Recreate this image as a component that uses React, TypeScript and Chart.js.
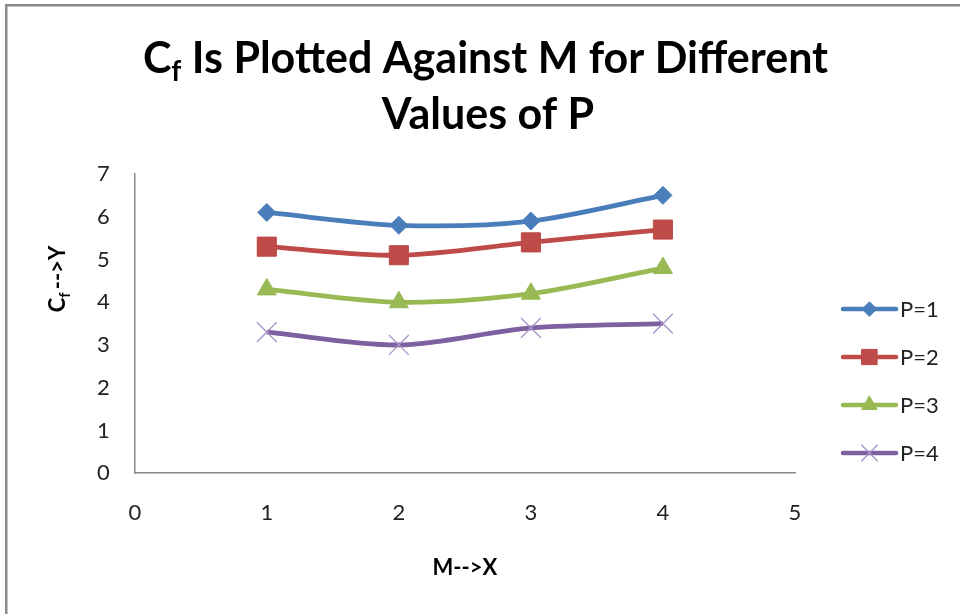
import { useEffect, useRef } from "react";
import { Chart, registerables } from "chart.js";
import { drawPoint } from "chart.js/helpers";

Chart.register(...registerables);

// ---- data ----
const mValues = [1, 2, 3, 4];
const seriesLabels = ["P=1", "P=2", "P=3", "P=4"];
const p1Values = [6.1, 5.8, 5.9, 6.5];
const p2Values = [5.3, 5.1, 5.4, 5.7];
const p3Values = [4.3, 4.0, 4.2, 4.8];
const p4Values = [3.3, 3.0, 3.4, 3.5];
const xTickValues = [0, 1, 2, 3, 4, 5];
const yTickValues = [0, 1, 2, 3, 4, 5, 6, 7];
const titleMain = "C";
const titleSub = "f";
const titleRest = " Is Plotted Against M for Different";
const titleLine2 = "Values of P";
const xAxisTitle = "M-->X";
const yAxisMain = "C";
const yAxisSub = "f";
const yAxisRest = "-->Y";

const FONT = "Lato, 'Liberation Sans', sans-serif";

const styles = [
  { color: "#4A7EBB", point: "rectRot", radius: 9, pColor: "#4A7EBB", pBorder: 1 },
  { color: "#BE4B48", point: "rect", radius: 13.5, pColor: "#BE4B48", pBorder: 1 },
  { color: "#98B954", point: "triangle", radius: 11, pColor: "#98B954", pBorder: 1 },
  { color: "#7D60A0", point: "crossRot", radius: 14, pColor: "#A793C8", pBorder: 1.3 },
];

const seriesValues = [p1Values, p2Values, p3Values, p4Values];

const decorPlugin = {
  id: "decor",
  beforeDraw(chart: any) {
    const ctx = chart.ctx;
    ctx.save();
    ctx.fillStyle = "#8c8c8c";
    ctx.fillRect(5, 4, 960, 2.5);
    ctx.fillRect(5, 4, 2.5, 620);
    ctx.restore();
  },
  afterDraw(chart: any) {
    const ctx = chart.ctx;
    ctx.save();
    ctx.fillStyle = "#000";
    // title line 1
    const big = `bold 43px ${FONT}`;
    const small = `bold 28px ${FONT}`;
    ctx.font = big;
    const wC = ctx.measureText(titleMain).width;
    const wRest = ctx.measureText(titleRest).width;
    ctx.font = small;
    const wF = ctx.measureText(titleSub).width;
    const total = wC + wF + wRest;
    let x = 485.5 - total / 2;
    ctx.textBaseline = "alphabetic";
    ctx.textAlign = "left";
    ctx.font = big;
    ctx.fillText(titleMain, x, 73);
    x += wC;
    ctx.font = small;
    ctx.fillText(titleSub, x, 81);
    x += wF;
    ctx.font = big;
    ctx.fillText(titleRest, x, 73);
    ctx.textAlign = "center";
    ctx.fillText(titleLine2, 488, 129);

    // y axis title (rotated)
    ctx.save();
    ctx.translate(65, 279);
    ctx.rotate(-Math.PI / 2);
    const yb = `bold 22px ${FONT}`;
    const ys = `bold 15px ${FONT}`;
    ctx.font = yb;
    const a = ctx.measureText(yAxisMain).width;
    const c = ctx.measureText(yAxisRest).width;
    ctx.font = ys;
    const b = ctx.measureText(yAxisSub).width;
    let tx = -(a + b + c + 3) / 2;
    ctx.textAlign = "left";
    ctx.font = yb;
    ctx.fillText(yAxisMain, tx, 0);
    tx += a;
    ctx.font = ys;
    ctx.fillText(yAxisSub, tx, 5);
    tx += b + 3;
    ctx.font = yb;
    ctx.fillText(yAxisRest, tx, 0);
    ctx.restore();

    // legend
    seriesLabels.forEach((label, i) => {
      const s = styles[i];
      const y = 309 + i * 48;
      ctx.strokeStyle = s.color;
      ctx.lineWidth = 4.5;
      ctx.lineCap = "round";
      ctx.beginPath();
      ctx.moveTo(843, y);
      ctx.lineTo(896, y);
      ctx.stroke();
      ctx.fillStyle = s.pColor;
      ctx.strokeStyle = s.pColor;
      ctx.lineWidth = s.pBorder;
      drawPoint(ctx, { pointStyle: s.point, radius: s.radius * 0.8, borderWidth: s.pBorder, rotation: 0 } as any, 869.5, y);
      ctx.fillStyle = "#222";
      ctx.font = `22px ${FONT}`;
      ctx.textAlign = "left";
      ctx.textBaseline = "middle";
      ctx.fillText(label, 900, y + 1);
    });
    ctx.restore();
  },
};

export default function App() {
  const ref = useRef<HTMLCanvasElement>(null);
  useEffect(() => {
    if (!ref.current) return;
    const chart = new Chart(ref.current, {
      type: "line",
      data: {
        datasets: seriesLabels.map((label, i) => ({
          label,
          data: mValues.map((m, j) => ({ x: m, y: seriesValues[i][j] })),
          borderColor: styles[i].color,
          backgroundColor: styles[i].pColor,
          pointBorderColor: styles[i].pColor,
          pointBackgroundColor: styles[i].pColor,
          pointStyle: styles[i].point as any,
          pointRadius: styles[i].radius,
          pointBorderWidth: styles[i].pBorder,
          borderWidth: 4.8,
          tension: 0.3,
          fill: false,
        })),
      },
      options: {
        animation: false,
        responsive: true,
        maintainAspectRatio: false,
        layout: { padding: { left: 72, right: 165, top: 174, bottom: 29 } },
        plugins: {
          legend: { display: false },
          tooltip: { enabled: false },
          title: { display: false },
        },
        scales: {
          x: {
            type: "linear",
            min: 0,
            max: 5,
            afterBuildTicks: (scale: any) => {
              scale.ticks = xTickValues.map((v) => ({ value: v }));
            },
            ticks: { color: "#222", font: { family: FONT, size: 22 }, padding: 27 },
            grid: { display: false, drawTicks: false },
            border: { display: true, color: "#8a8a8a", width: 1.5 },
            title: {
              display: true,
              text: xAxisTitle,
              color: "#000",
              font: { family: FONT, size: 22, weight: "bold" },
              padding: { top: 1, bottom: 4 },
            },
          },
          y: {
            type: "linear",
            min: 0,
            max: 7,
            afterBuildTicks: (scale: any) => {
              scale.ticks = yTickValues.map((v) => ({ value: v }));
            },
            ticks: { color: "#222", font: { family: FONT, size: 22 }, padding: 25 },
            grid: { display: false, drawTicks: false },
            border: { display: true, color: "#8a8a8a", width: 1.5 },
          },
        },
      },
      plugins: [decorPlugin],
    });
    return () => chart.destroy();
  }, []);
  return (
    <div style={{ position: "absolute", left: 0, top: 0, width: 960, height: 614, background: "#fff" }}>
      <canvas ref={ref} />
    </div>
  );
}
